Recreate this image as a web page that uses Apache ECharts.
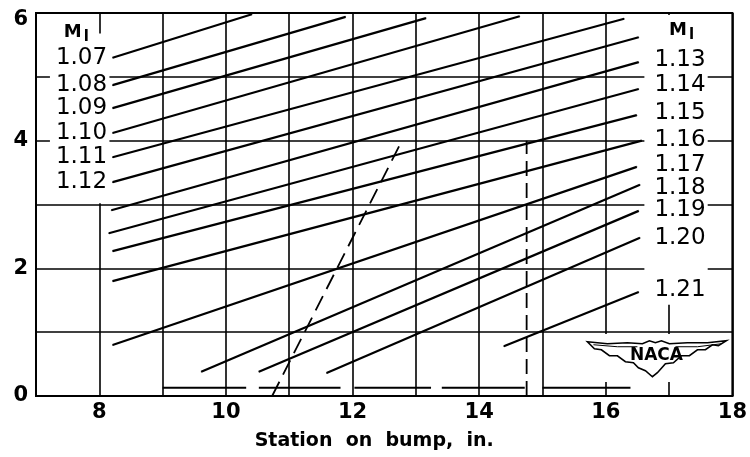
<!DOCTYPE html>
<html>
<head>
<meta charset="utf-8">
<script src="https://cdn.jsdelivr.net/npm/echarts@6/dist/echarts.min.js"></script>
<style>
html,body{margin:0;padding:0;background:#fff;}
#c{width:750px;height:457px;}
</style>
</head>
<body>
<div id="c"></div>
<script>
// ---- data ----
const machLabels = ['1.07','1.08','1.09','1.10','1.11','1.12','1.13','1.14','1.15','1.16','1.17','1.18','1.19','1.20','1.21'];
const labelSide  = ['L','L','L','L','L','L','R','R','R','R','R','R','R','R','R'];
const startX = [8.21, 8.21, 8.21, 8.21, 8.21, 8.21, 8.19, 8.15, 8.21, 8.21, 8.21, 9.61, 10.52, 11.59, 14.39];
const startY = [5.30, 4.87, 4.51, 4.12, 3.74, 3.35, 2.91, 2.55, 2.27, 1.80, 0.80, 0.38, 0.38, 0.36, 0.78];
const endX   = [10.41, 11.89, 13.16, 14.64, 16.29, 16.52, 16.52, 16.52, 16.49, 16.57, 16.49, 16.54, 16.52, 16.54, 16.52];
const endY   = [5.98, 5.94, 5.92, 5.95, 5.91, 5.62, 5.23, 4.81, 4.40, 4.00, 3.59, 3.31, 2.90, 2.48, 1.63];

const sonicLineX = [10.73, 12.77];
const sonicLineY = [0.0, 3.98];
const stationMarkX = [14.75, 14.75];
const stationMarkY = [0.0, 4.0];

const baseSegStart = [9.0, 10.52, 12.03, 13.41, 15.0];
const baseSegEnd   = [10.32, 11.81, 13.24, 14.72, 16.39];
const baseSegY = 0.13;

const xTicks = [8, 10, 12, 14, 16, 18];
const yTicks = [0, 2, 4, 6];
const xTitle = 'Station  on  bump,  in.';
const headerMain = 'M';
const headerSub = 'l';
const logoText = 'NACA';

// ---- layout / style ----
const FONT = 'DejaVu Sans';
const RIGHT_LABEL_COL = 16.76;   // x where the right-hand label column starts
const labelNudge = [0,0,0,0,0,0, -2,-4,-2,-1,-2,3,-1,0,-2]; // small vertical text nudges (px)
const chart = echarts.init(document.getElementById('c'), null, {renderer: 'canvas'});

function buildSeries(rightDist) {
  const series = [];
  machLabels.forEach((m, i) => {
    const lbl = {show: true, formatter: m, color: '#000', fontFamily: FONT, fontSize: 23, offset: [0, labelNudge[i]]};
    const p0 = {value: [startX[i], startY[i]], label: labelSide[i] === 'L'
        ? Object.assign({position: 'left', distance: 5}, lbl) : {show: false}};
    const p1 = {value: [endX[i], endY[i]], label: labelSide[i] === 'R'
        ? Object.assign({position: 'right', distance: rightDist ? rightDist[i] : 14}, lbl) : {show: false}};
    series.push({
      type: 'line', name: m, data: [p0, p1], z: 3,
      symbol: 'circle', symbolSize: 1, showSymbol: true,
      itemStyle: {color: '#000'},
      lineStyle: {color: '#000', width: 2.2},
      silent: true, animation: false
    });
  });
  series.push({
    type: 'line', data: sonicLineX.map((x, i) => [x, sonicLineY[i]]), z: 3,
    symbol: 'none', lineStyle: {color: '#000', width: 1.8, type: [16, 8]}, silent: true, animation: false
  });
  series.push({
    type: 'line', data: stationMarkX.map((x, i) => [x, stationMarkY[i]]), z: 3,
    symbol: 'none', lineStyle: {color: '#000', width: 1.8, type: [15, 7]}, silent: true, animation: false
  });
  const baseData = [];
  baseSegStart.forEach((s, i) => { baseData.push([s, baseSegY], [baseSegEnd[i], baseSegY], [null, null]); });
  series.push({
    type: 'line', data: baseData, connectNulls: false, z: 3,
    symbol: 'none', lineStyle: {color: '#000', width: 2}, silent: true, animation: false
  });
  return series;
}

const option = {
  backgroundColor: '#fff',
  animation: false,
  grid: {left: 36, right: 14, top: 13, bottom: 61, show: true, borderColor: '#000', borderWidth: 2, backgroundColor: 'transparent'},
  xAxis: {
    type: 'value', min: 7, max: 18, interval: 1,
    name: xTitle, nameLocation: 'middle', nameGap: 36,
    nameTextStyle: {color: '#000', fontFamily: FONT, fontSize: 19, fontWeight: 'bold', padding: [0, 20, 0, 0]},
    axisLine: {show: true, lineStyle: {color: '#000', width: 2}},
    axisTick: {show: false},
    axisLabel: {color: '#000', fontFamily: FONT, fontSize: 21, fontWeight: 'bold', margin: 6,
      formatter: v => xTicks.indexOf(v) >= 0 ? String(v) : ''},
    splitLine: {show: true, lineStyle: {color: '#000', width: 1.6}}
  },
  yAxis: {
    type: 'value', min: 0, max: 6, interval: 1,
    axisLine: {show: true, lineStyle: {color: '#000', width: 2}},
    axisTick: {show: false},
    axisLabel: {color: '#000', fontFamily: FONT, fontSize: 21, fontWeight: 'bold', margin: 8,
      formatter: v => yTicks.indexOf(v) >= 0 ? (v === 6 ? '{t|6}' : String(v)) : '',
      rich: {t: {color: '#000', fontFamily: FONT, fontSize: 21, fontWeight: 'bold', padding: [14, 0, 0, 0]}}},
    splitLine: {show: true, lineStyle: {color: '#000', width: 1.6}}
  },
  series: buildSeries(null)
};
chart.setOption(option);

function px(x, y) { return chart.convertToPixel({gridIndex: 0}, [x, y]); }

// align right-hand labels in one column
const colPx = px(RIGHT_LABEL_COL, 0)[0];
const rightDist = endX.map((x, i) => colPx - px(x, endY[i])[0]);
chart.setOption({series: buildSeries(rightDist)});

// white label panels (hide grid under the labels), header texts, NACA emblem
function maskRect(x0, y0, x1, y1) {
  const a = px(x0, y0), b = px(x1, y1);
  return {type: 'rect', z: 1, silent: true,
    shape: {x: a[0], y: a[1], width: b[0] - a[0], height: b[1] - a[1]},
    style: {fill: '#fff'}};
}
const leftPanel = maskRect(7.22, 5.68, 8.16, 3.02);
const rightPanel = maskRect(16.61, 5.97, 17.61, 1.43);
const logoPanel = maskRect(15.71, 0.97, 17.95, 0.22);

function header(x, y) {
  return {type: 'group', z: 5, silent: true, x: x, y: y, children: [
    {type: 'text', z: 5, x: 0, y: 0, style: {text: headerMain, fill: '#000', font: 'bold 18px "DejaVu Sans"', textVerticalAlign: 'top'}},
    {type: 'text', z: 5, x: 20, y: 6, style: {text: headerSub, fill: '#000', font: 'bold 15px "DejaVu Sans"', textVerticalAlign: 'top'}}
  ]};
}
const hL = px(7.44, 5.84), hR = px(17.0, 5.87);

const lp = px(15.71, 0.85);
const wing = [
  [0,0],[20,2],[40,1],[55,2],[62,-1],[68,1],[74,-1],[82,2],[100,1],[120,1],[139,-1],
  [131,4],[125,3],[118,8],[110,8],[102,14],[94,14],[86,21],[78,22],[70,31],[65,35],
  [58,29],[51,26],[46,21],[38,20],[30,14],[22,14],[14,8],[7,7]
];
const logo = {type: 'group', z: 5, silent: true, x: lp[0], y: lp[1], children: [
  {type: 'polygon', z: 5, shape: {points: wing}, style: {fill: '#fff', stroke: '#000', lineWidth: 1.6}},
  {type: 'polyline', z: 5, shape: {points: [[6,3],[30,5],[50,5]]}, style: {stroke: '#000', lineWidth: 1, fill: null}},
  {type: 'polyline', z: 5, shape: {points: [[88,5],[110,5],[134,2]]}, style: {stroke: '#000', lineWidth: 1, fill: null}},
  {type: 'text', z: 6, x: 69, y: 14, style: {text: logoText, fill: '#000', font: 'bold 17px "DejaVu Sans"', textAlign: 'center', textVerticalAlign: 'middle'}}
]};

chart.setOption({graphic: [leftPanel, rightPanel, logoPanel, header(hL[0], hL[1]), header(hR[0], hR[1]), logo]});
</script>
</body>
</html>
